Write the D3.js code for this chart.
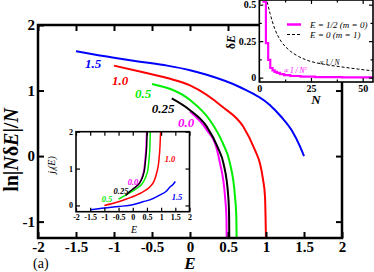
<!DOCTYPE html>
<html><head><meta charset="utf-8">
<script src="https://cdn.jsdelivr.net/npm/d3@7"></script>
<style>html,body{margin:0;padding:0;background:#fff}svg{display:block}</style>
</head><body>
<script>
// ---------------- data ----------------
// main panel: ln|N dE|/N vs E, one curve per parameter
const mainLabels = ["1.5", "1.0", "0.5", "0.25", "0.0"];
const mainE_15 = [-1.5, -1.0, -0.66, -0.3, 0, 0.22, 0.66, 1.05, 1.2, 1.34, 1.45, 1.5];
const mainV_15 = [1.60, 1.50, 1.44, 1.38, 1.31, 1.24, 1.05, 0.78, 0.60, 0.39, 0.14, 0.0];
const mainE_10 = [-1.0, -0.66, -0.3, 0, 0.43, 0.7, 0.855, 0.92, 0.96, 0.987, 1.0];
const mainV_10 = [1.38, 1.29, 1.19, 1.08, 0.75, 0.45, 0.09, -0.11, -0.35, -0.62, -1.3];
const mainE_05 = [-0.5, 0, 0.26, 0.43, 0.526, 0.592, 0.61, 0.614];
const mainV_05 = [1.10, 0.855, 0.55, 0.20, -0.11, -0.62, -0.95, -1.3];
const mainE_025 = [-0.24, 0, 0.22, 0.37, 0.44, 0.504, 0.515, 0.517];
const mainV_025 = [0.88, 0.70, 0.45, 0.12, -0.11, -0.62, -0.95, -1.3];
const mainE_00 = [0, 0.22, 0.35, 0.395, 0.461, 0.48, 0.483];
const mainV_00 = [0.68, 0.40, 0.12, -0.11, -0.62, -0.95, -1.3];
const mainXTicks = [-2, -1.5, -1, -0.5, 0, 0.5, 1, 1.5, 2];
const mainYTicks = [-1, 0, 1, 2];

// inset (top right): dE vs N
const stepN = [1.5, 3.2, 4.3, 5.3, 6.4, 7.4, 8.5, 10, 12, 15, 20, 27, 40, 55];
const stepV = [0.52, 0.236, 0.121, 0.066, 0.05, 0.04, 0.032, 0.024, 0.017, 0.011, 0.007, 0.004, 0.002, 0.001];
const dashN = [3.8, 5.2, 7.6, 10.5, 14.3, 19, 24, 31, 39, 47, 55];
const dashV = [0.52, 0.44, 0.33, 0.25, 0.19, 0.145, 0.115, 0.092, 0.075, 0.06, 0.046];
const legendText = ["E = 1/2 (m = 0)", "E = 0 (m = 1)"];
const insNXTicks = [0, 25, 50];
const insNXMinor = [12.5, 37.5];
const insNYTicks = [0, 0.25, 0.5];
const insNYMinor = [0.125, 0.375];

// inset (lower left): j_l(E) vs E
const jE_15 = [-1.5, -1, -0.5, 0, 0.36, 0.6, 0.95, 1.2, 1.31, 1.42, 1.5];
const jV_15 = [-0.12, -0.07, -0.03, 0.02, 0.1, 0.15, 0.28, 0.4, 0.5, 0.57, 0.65];
const jE_10 = [-1, -0.5, -0.2, 0.1, 0.36, 0.6, 0.75, 0.85, 0.92, 0.96, 0.985];
const jV_10 = [0.0, 0.1, 0.18, 0.27, 0.37, 0.5, 0.66, 0.9, 1.2, 1.6, 2.05];
const jE_05 = [-0.5, -0.1, 0.15, 0.36, 0.47, 0.54, 0.58, 0.605, 0.62];
const jV_05 = [0.17, 0.35, 0.47, 0.62, 0.8, 1.0, 1.3, 1.6, 2.05];
const jE_025 = [-0.25, -0.1, 0.1, 0.25, 0.36, 0.42, 0.46, 0.49, 0.51];
const jV_025 = [0.27, 0.38, 0.5, 0.62, 0.8, 1.0, 1.3, 1.6, 2.05];
const jE_00 = [0, 0.1, 0.25, 0.34, 0.4, 0.44, 0.47, 0.49];
const jV_00 = [0.45, 0.5, 0.62, 0.8, 1.0, 1.3, 1.6, 2.05];
const jXTicks = [-2, -1.5, -1, -0.5, 0, 0.5, 1, 1.5, 2];
const jYTicks = [0, 1, 2];

// ---------------- style ----------------
const COLORS = ["#0000ff", "#ff0000", "#00ee00", "#000000", "#ff00ff"];
const SERIF = "'Liberation Serif','Times New Roman',serif";

const svg = d3.select("body").append("svg").attr("width", 374).attr("height", 272)
  .style("font-family", SERIF);

const zip = (a, b) => a.map((v, i) => [v, b[i]]);
const fmt = d => String(d);

function styleAxis(g, fs, lw) {
  g.select(".domain").remove();
  g.selectAll(".tick line").attr("stroke", "#000").attr("stroke-width", lw);
  g.selectAll(".tick text").attr("font-size", fs).attr("font-weight", "bold")
    .attr("font-family", SERIF).attr("fill", "#000");
}

// ---------------- main panel ----------------
const xM = d3.scaleLinear().domain([-2, 2]).range([38, 342]);
const yM = d3.scaleLinear().domain([-1.25, 2]).range([238, 25]);

svg.append("clipPath").attr("id", "clipMain").append("rect")
  .attr("x", xM(-2)).attr("y", yM(2)).attr("width", xM(2) - xM(-2)).attr("height", yM(-1.25) - yM(2));

const mainSeries = [
  zip(mainE_15, mainV_15), zip(mainE_10, mainV_10), zip(mainE_05, mainV_05),
  zip(mainE_025, mainV_025), zip(mainE_00, mainV_00)
];
const lineM = d3.line().x(d => xM(d[0])).y(d => yM(d[1])).curve(d3.curveMonotoneX);
const gM = svg.append("g").attr("clip-path", "url(#clipMain)");
[0, 1, 2, 4, 3].forEach(i => {
  gM.append("path").attr("d", lineM(mainSeries[i])).attr("fill", "none")
    .attr("stroke", COLORS[i]).attr("stroke-width", 2);
});

svg.append("g").attr("transform", `translate(0,${yM(-1.25)})`)
  .call(d3.axisBottom(xM).tickValues(mainXTicks).tickSize(-6).tickPadding(3).tickFormat(fmt))
  .call(g => styleAxis(g, 15, 2));
svg.append("g").attr("transform", `translate(0,${yM(2)})`)
  .call(d3.axisTop(xM).tickValues(mainXTicks).tickSize(-6).tickFormat(""))
  .call(g => styleAxis(g, 15, 2));
svg.append("g").attr("transform", `translate(${xM(-2)},0)`)
  .call(d3.axisLeft(yM).tickValues(mainYTicks).tickSize(-6).tickPadding(3).tickFormat(fmt))
  .call(g => styleAxis(g, 15, 2));
svg.append("g").attr("transform", `translate(${xM(2)},0)`)
  .call(d3.axisRight(yM).tickValues(mainYTicks).tickSize(-6).tickFormat(""))
  .call(g => styleAxis(g, 15, 2));
svg.append("rect").attr("x", xM(-2)).attr("y", yM(2)).attr("width", xM(2) - xM(-2))
  .attr("height", yM(-1.25) - yM(2)).attr("fill", "none").attr("stroke", "#000").attr("stroke-width", 2.5);

// curve labels
const mainLabelPos = [[93, 68], [120, 85], [143, 98], [163, 113], [186, 127]];
mainLabels.forEach((t, i) => {
  svg.append("text").attr("x", mainLabelPos[i][0]).attr("y", mainLabelPos[i][1])
    .attr("text-anchor", "middle").attr("font-size", 13).attr("font-weight", "bold")
    .attr("font-style", "italic").attr("fill", COLORS[i]).text(t);
});

// axis titles
svg.append("text").attr("x", 190).attr("y", 269).attr("text-anchor", "middle")
  .attr("font-size", 17).attr("font-weight", "bold").attr("font-style", "italic").text("E");
svg.append("text").attr("x", 33).attr("y", 268).attr("font-size", 14).text("(a)");
const yl = svg.append("text").attr("transform", "translate(18,150) rotate(-90)")
  .attr("text-anchor", "middle").attr("font-size", 20).attr("font-weight", "bold");
yl.append("tspan").text("ln|");
yl.append("tspan").attr("font-style", "italic").text("N");
yl.append("tspan").text("δ");
yl.append("tspan").attr("font-style", "italic").text("E");
yl.append("tspan").text("|/");
yl.append("tspan").attr("font-style", "italic").text("N");

// ---------------- lower-left inset: j_l(E) ----------------
const xJ = d3.scaleLinear().domain([-2, 2]).range([76, 189.5]);
const yJ = d3.scaleLinear().domain([-0.17, 2]).range([211.7, 131.7]);
svg.append("rect").attr("x", xJ(-2)).attr("y", yJ(2)).attr("width", xJ(2) - xJ(-2))
  .attr("height", yJ(-0.17) - yJ(2)).attr("fill", "#fff");
svg.append("clipPath").attr("id", "clipJ").append("rect")
  .attr("x", xJ(-2)).attr("y", yJ(2)).attr("width", xJ(2) - xJ(-2)).attr("height", yJ(-0.17) - yJ(2));
const jSeries = [zip(jE_15, jV_15), zip(jE_10, jV_10), zip(jE_05, jV_05), zip(jE_025, jV_025), zip(jE_00, jV_00)];
const lineJ = d3.line().x(d => xJ(d[0])).y(d => yJ(d[1])).curve(d3.curveMonotoneX);
const gJ = svg.append("g").attr("clip-path", "url(#clipJ)");
[0, 1, 2, 4, 3].forEach(i => {
  gJ.append("path").attr("d", lineJ(jSeries[i])).attr("fill", "none")
    .attr("stroke", COLORS[i]).attr("stroke-width", 1.5);
});
svg.append("g").attr("transform", `translate(0,${yJ(-0.17)})`)
  .call(d3.axisBottom(xJ).tickValues(jXTicks).tickSize(-4).tickPadding(3).tickFormat(fmt))
  .call(g => styleAxis(g, 8, 1.2));
svg.append("g").attr("transform", `translate(0,${yJ(2)})`)
  .call(d3.axisTop(xJ).tickValues(jXTicks).tickSize(-4).tickFormat(""))
  .call(g => styleAxis(g, 8, 1.2));
svg.append("g").attr("transform", `translate(${xJ(-2)},0)`)
  .call(d3.axisLeft(yJ).tickValues(jYTicks).tickSize(-4).tickPadding(3).tickFormat(fmt))
  .call(g => styleAxis(g, 8, 1.2));
svg.append("g").attr("transform", `translate(${xJ(2)},0)`)
  .call(d3.axisRight(yJ).tickValues(jYTicks).tickSize(-4).tickFormat(""))
  .call(g => styleAxis(g, 8, 1.2));
svg.append("rect").attr("x", xJ(-2)).attr("y", yJ(2)).attr("width", xJ(2) - xJ(-2))
  .attr("height", yJ(-0.17) - yJ(2)).attr("fill", "none").attr("stroke", "#000").attr("stroke-width", 1.6);
const jLabelPos = [[177, 200], [170, 162], [107, 202], [121, 194], [133, 185]];
mainLabels.forEach((t, i) => {
  svg.append("text").attr("x", jLabelPos[i][0]).attr("y", jLabelPos[i][1])
    .attr("text-anchor", "middle").attr("font-size", 8.5).attr("font-weight", "bold")
    .attr("font-style", "italic").attr("fill", COLORS[i]).text(t);
});
svg.append("text").attr("x", 134).attr("y", 233).attr("text-anchor", "middle")
  .attr("font-size", 10).attr("font-style", "italic").text("E");
const jl = svg.append("text").attr("transform", "translate(55,165) rotate(-90)")
  .attr("text-anchor", "middle").attr("font-size", 10).attr("font-style", "italic");
jl.append("tspan").text("j");
jl.append("tspan").attr("font-size", 7).attr("dy", 2).text("l");
jl.append("tspan").attr("dy", -2).text("(E)");

// ---------------- top-right inset: dE vs N ----------------
const xN = d3.scaleLinear().domain([0, 55]).range([259.3, 373]);
const yN = d3.scaleLinear().domain([-0.03, 0.532]).range([82, 0]);
svg.append("rect").attr("x", xN(0)).attr("y", yN(0.532)).attr("width", xN(55) - xN(0))
  .attr("height", yN(-0.03) - yN(0.532)).attr("fill", "#fff");
svg.append("clipPath").attr("id", "clipN").append("rect")
  .attr("x", xN(0)).attr("y", yN(0.532)).attr("width", xN(55) - xN(0)).attr("height", yN(-0.03) - yN(0.532));
const gN = svg.append("g").attr("clip-path", "url(#clipN)");
gN.append("path").attr("d", d3.line().x(d => xN(d[0])).y(d => yN(d[1])).curve(d3.curveMonotoneX)(zip(dashN, dashV)))
  .attr("fill", "none").attr("stroke", "#000").attr("stroke-width", 1).attr("stroke-dasharray", "3,2");
gN.append("path").attr("d", d3.line().x(d => xN(d[0])).y(d => yN(d[1])).curve(d3.curveStepAfter)(zip(stepN, stepV)))
  .attr("fill", "none").attr("stroke", "#ff00ff").attr("stroke-width", 2.2);

function nAxes(ticksX, ticksY, size) {
  svg.append("g").attr("transform", `translate(0,${yN(-0.03)})`)
    .call(d3.axisBottom(xN).tickValues(ticksX).tickSize(-size).tickPadding(3).tickFormat(size > 3 ? fmt : ""))
    .call(g => styleAxis(g, 10, 1.2));
  svg.append("g").attr("transform", `translate(0,${yN(0.532)})`)
    .call(d3.axisTop(xN).tickValues(ticksX).tickSize(-size).tickFormat(""))
    .call(g => styleAxis(g, 10, 1.2));
  svg.append("g").attr("transform", `translate(${xN(0)},0)`)
    .call(d3.axisLeft(yN).tickValues(ticksY).tickSize(-size).tickPadding(3).tickFormat(size > 3 ? fmt : ""))
    .call(g => styleAxis(g, 10, 1.2));
  svg.append("g").attr("transform", `translate(${xN(55)},0)`)
    .call(d3.axisRight(yN).tickValues(ticksY).tickSize(-size).tickFormat(""))
    .call(g => styleAxis(g, 10, 1.2));
}
nAxes(insNXTicks, insNYTicks, 4);
nAxes(insNXMinor, insNYMinor, 2.5);
svg.append("rect").attr("x", xN(0)).attr("y", yN(0.532)).attr("width", xN(55) - xN(0))
  .attr("height", yN(-0.03) - yN(0.532)).attr("fill", "none").attr("stroke", "#000").attr("stroke-width", 1.6);

// legend
svg.append("line").attr("x1", 287).attr("x2", 301).attr("y1", 24.5).attr("y2", 24.5)
  .attr("stroke", "#ff00ff").attr("stroke-width", 2.5);
svg.append("line").attr("x1", 287).attr("x2", 301).attr("y1", 34.5).attr("y2", 34.5)
  .attr("stroke", "#000").attr("stroke-width", 1).attr("stroke-dasharray", "3,2");
legendText.forEach((t, i) => {
  svg.append("text").attr("x", 310).attr("y", 27.5 + 10 * i).attr("font-size", 9)
    .attr("font-style", "italic").text(t);
});
svg.append("text").attr("x", 318).attr("y", 64.5).attr("font-size", 7.5).attr("font-style", "italic").text("∝ 1 / N");
const a2 = svg.append("text").attr("x", 283).attr("y", 73).attr("font-size", 7.5)
  .attr("font-style", "italic").attr("fill", "#ff00ff");
a2.append("tspan").text("∝ 1 / N");
a2.append("tspan").attr("font-size", 5).attr("dy", -3).text("2");
svg.append("text").attr("x", 316).attr("y", 104).attr("text-anchor", "middle")
  .attr("font-size", 13).attr("font-weight", "bold").attr("font-style", "italic").text("N");
const dl = svg.append("text").attr("transform", "translate(235,42) rotate(-90)")
  .attr("text-anchor", "middle").attr("font-size", 12).attr("font-weight", "bold");
dl.append("tspan").text("δ");
dl.append("tspan").attr("font-style", "italic").text("E");
</script>
</body></html>
